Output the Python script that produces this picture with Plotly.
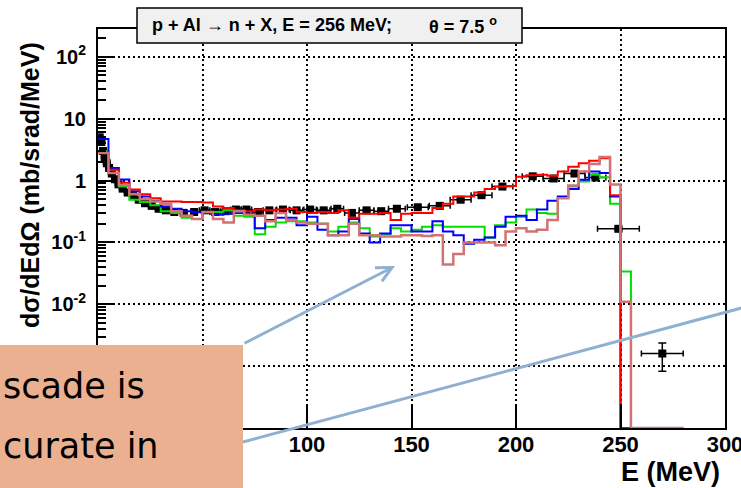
import numpy as np
import plotly.graph_objects as go

# ---------------- data ----------------
# neutron spectra, p + Al -> n + X at 256 MeV, theta = 7.5 deg
bin_edges = list(range(0, 285, 5))  # 0 ... 280 MeV, 5 MeV bins

model_red = [2.8, 1.5, 0.92, 0.72, 0.6, 0.52, 0.46, 0.46, 0.45, 0.45,
             0.44, 0.38, 0.36, 0.33, 0.32, 0.34, 0.33, 0.34, 0.35, 0.31,
             0.30, 0.31, 0.30, 0.33, 0.25, 0.29, 0.29, 0.30, 0.23, 0.29,
             0.30, 0.30, 0.36, 0.42, 0.55, 0.55, 0.64, 0.73, 0.80, 0.82,
             1.15, 1.22, 1.24, 1.20, 1.40, 1.67, 1.90, 2.10, 2.30, 0.58,
             0, 0, 0, 0, 0, 0]

model_blue = [4.7, 1.6, 1.04, 0.67, 0.55, 0.47, 0.38, 0.35, 0.32, 0.31,
              0.30, 0.28, 0.29, 0.30, 0.29, 0.17, 0.23, 0.25, 0.25, 0.19,
              0.26, 0.16, 0.13, 0.15, 0.24, 0.14, 0.10, 0.14, 0.19, 0.19,
              0.15, 0.15, 0.22, 0.15, 0.13, 0.095, 0.11, 0.12, 0.18, 0.26,
              0.27, 0.23, 0.34, 0.47, 0.55, 0.73, 1.03, 1.40, 1.33, 0.55,
              0, 0, 0, 0, 0, 0]

model_green = [3.0, 1.5, 0.8, 0.49, 0.45, 0.40, 0.32, 0.30, 0.25, 0.24,
               0.31, 0.31, 0.33, 0.27, 0.26, 0.135, 0.18, 0.21, 0.22, 0.22,
               0.21, 0.20, 0.15, 0.18, 0.21, 0.17, 0.125, 0.135, 0.17, 0.15,
               0.16, 0.18, 0.19, 0.18, 0.18, 0.18, 0.18, 0.12, 0.19, 0.21,
               0.26, 0.34, 0.30, 0.29, 0.53, 0.80, 0.97, 1.24, 1.13, 0.42,
               0.034, 0, 0, 0, 0, 0]

model_pink = [2.8, 1.33, 0.85, 0.6, 0.5, 0.46, 0.42, 0.32, 0.27, 0.24,
              0.31, 0.24, 0.21, 0.32, 0.28, 0.27, 0.22, 0.30, 0.23, 0.21,
              0.20, 0.20, 0.13, 0.13, 0.20, 0.13, 0.13, 0.125, 0.125, 0.13,
              0.13, 0.127, 0.13, 0.044, 0.065, 0.10, 0.10, 0.10, 0.09, 0.15,
              0.17, 0.15, 0.16, 0.23, 0.52, 0.83, 1.4, 1.85, 2.4, 0.86,
              0.011, 0, 0, 0, 0, 0]

exp_E = [0.8, 1.6, 2.4, 3.2, 4.2, 5.3, 6.6, 8.1, 9.8, 11.8, 14.2, 16.8,
         19.5, 22.5, 25.7, 29.0, 32.5, 36.5, 41.0, 46.0, 51.0, 56.0, 61.0,
         66.0, 71.0, 76.5, 82.0, 88.5, 95.0, 101.5, 108.0, 114.5, 121.5,
         128.5, 135.5, 143.0, 153.0, 163.5, 173.5, 183.5, 193.5, 208.0,
         218.0, 228.0, 238.0, 249.0, 270.0]
exp_val = [5.0, 4.2, 3.0, 2.4, 1.9, 1.6, 1.3, 1.05, 0.87, 0.74, 0.64, 0.56,
           0.49, 0.43, 0.39, 0.35, 0.33, 0.31, 0.30, 0.31, 0.33, 0.31, 0.32,
           0.34, 0.34, 0.31, 0.33, 0.34, 0.33, 0.34, 0.33, 0.35, 0.30,
           0.33, 0.32, 0.35, 0.37, 0.39, 0.49, 0.58, 0.80, 1.17,
           1.08, 1.30, 1.12, 0.166, 0.0016]
exp_dE = [0, 0, 0, 0, 0, 0, 0, 0, 0, 0, 0, 0,
          0, 0, 0, 0, 0, 0, 0, 0, 2.5, 2.5, 2.5,
          2.5, 2.5, 2.5, 3, 3, 3, 3, 3, 3, 3.5,
          3.5, 3.5, 4, 5, 5, 5, 5, 5, 5,
          5, 5, 5, 10, 10]
exp_err = [0.2, 0.15, 0.1, 0.08, 0.06, 0.05, 0.04, 0.03, 0.03, 0.02, 0.02,
           0.02, 0.015, 0.015, 0.012, 0.012, 0.01, 0.01, 0.01, 0.01, 0.01,
           0.01, 0.01, 0.01, 0.01, 0.01, 0.01, 0.01, 0.01, 0.01, 0.01,
           0.01, 0.01, 0.01, 0.01, 0.012, 0.012, 0.013, 0.015, 0.018, 0.025,
           0.035, 0.035, 0.04, 0.035, 0.01, 0.00077]

# labels below 1e-2 and below 100 MeV sit under the callout box
y_tick_vals = [1e-2, 1e-1, 1, 10, 100]
y_tick_text = ["10<sup>-2</sup>", "10<sup>-1</sup>", "1", "10", "10<sup>2</sup>"]
y_tick_hidden = [1e-4, 1e-3]
x_tick_vals = [100, 150, 200, 250, 300]
x_tick_hidden = [0, 50]

# ---------------- page geometry (pixels) ----------------
W, H = 741, 488
L, R, T, B = 98, 725, 29, 428
Y_LOG_MIN, Y_LOG_MAX = -4.0, 2.45


def px(x):
    return (x - L) / (R - L)


def py(y):
    return (B - y) / (B - T)


FLOOR = 10 ** Y_LOG_MIN  # empty bins sit on the lower frame edge


def step_xy(values):
    v = np.asarray(values, dtype=float)
    v = np.where(v > 0, v, FLOOR)
    return bin_edges, list(v) + [v[-1]]


fig = go.Figure()

fig.add_trace(go.Scatter(
    x=exp_E, y=exp_val, mode="markers",
    marker=dict(symbol="square", size=8, color="black"),
    error_x=dict(type="data", array=exp_dE, color="black", thickness=1.5, width=3),
    error_y=dict(type="data", array=exp_err, color="black", thickness=1.5, width=4),
    hoverinfo="skip"))

for vals, col, lw in [(model_green, "#00E000", 2),
                      (model_blue, "#0000FF", 2),
                      (model_red, "#FF0000", 2),
                      (model_pink, "#D27272", 2.5)]:
    xs, ys = step_xy(vals)
    fig.add_trace(go.Scatter(x=xs, y=ys, mode="lines", line_shape="hv",
                             line=dict(color=col, width=lw), hoverinfo="skip"))

grid = dict(showgrid=True, gridcolor="black", gridwidth=1.5, griddash="2px,3px")
axis_font = dict(family="Liberation Sans, Arial, sans-serif", color="black", weight="bold")

fig.update_xaxes(range=[0, 300], tickmode="array",
                 tickvals=x_tick_hidden + x_tick_vals,
                 ticktext=["", ""] + [str(v) for v in x_tick_vals],
                 ticks="inside", ticklen=24, tickwidth=2, tickcolor="black",
                 showline=True, linewidth=2, linecolor="black", mirror=True,
                 zeroline=False, tickfont=dict(size=22, **axis_font),
                 ticklabeloverflow="allow", ticklabelstandoff=-4,
                 automargin=False, **grid)

minor_vals = [m * 10 ** d for d in range(-4, 3) for m in range(2, 10)
              if np.log10(m * 10 ** d) < Y_LOG_MAX]
fig.update_yaxes(type="log", range=[Y_LOG_MIN, Y_LOG_MAX], tickmode="array",
                 tickvals=y_tick_hidden + y_tick_vals,
                 ticktext=["", ""] + y_tick_text,
                 ticks="inside", ticklen=17, tickwidth=2, tickcolor="black",
                 minor=dict(tickmode="array", tickvals=minor_vals, ticks="inside",
                            ticklen=8, tickwidth=1.5, tickcolor="black", showgrid=False),
                 showline=True, linewidth=2, linecolor="black", mirror=True,
                 zeroline=False, tickfont=dict(size=20, **axis_font),
                 ticklabelstandoff=6, automargin=False, **grid)

slide_blue = "#8FB0D0"
shapes = [
    # header box
    dict(type="rect", xref="paper", yref="paper", x0=px(137), x1=px(522),
         y0=py(43), y1=py(8), fillcolor="#F0F0F0",
         line=dict(color="black", width=1.5), layer="above"),
    # long pointer line
    dict(type="line", xref="paper", yref="paper", x0=px(243), y0=py(442),
         x1=px(760), y1=py(303), line=dict(color=slide_blue, width=3), layer="above"),
    # callout box
    dict(type="rect", xref="paper", yref="paper", x0=px(-10), x1=px(243),
         y0=py(500), y1=py(345), fillcolor="#EBB08F", line=dict(width=0), layer="above"),
]

bold = dict(family="Liberation Sans, Arial, sans-serif", color="black", weight="bold")
callout_font = dict(family="DejaVu Sans, sans-serif", size=35, color="black")
annotations = [
    dict(xref="paper", yref="paper", x=px(150), y=py(25.5), xanchor="left",
         yanchor="middle", showarrow=False,
         text="p + Al \u2192 n + X, E = 256 MeV;", font=dict(size=18, **bold)),
    dict(xref="paper", yref="paper", x=px(427), y=py(25.5), xanchor="left",
         yanchor="middle", showarrow=False,
         text="\u03b8 = 7.5 <sup>o</sup>", font=dict(size=18, **bold)),
    dict(xref="paper", yref="paper", x=px(30), y=py(185), xanchor="center",
         yanchor="middle", showarrow=False, textangle=-90,
         text="d\u03c3/dEd\u03a9 (mb/srad/MeV)", font=dict(size=25, **bold)),
    dict(xref="paper", yref="paper", x=px(722), y=py(472), xanchor="right",
         yanchor="middle", showarrow=False,
         text="E (MeV)", font=dict(size=27, **bold)),
    # arrow into the plot
    dict(xref="paper", yref="paper", x=px(395), y=py(266), ax=-152, ay=78,
         text="", showarrow=True, arrowhead=5, arrowsize=1, arrowwidth=3,
         arrowcolor=slide_blue),
    # callout text
    dict(xref="paper", yref="paper", x=px(1), y=py(386), xanchor="left",
         yanchor="middle", showarrow=False, text="scade is", font=callout_font),
    dict(xref="paper", yref="paper", x=px(1), y=py(446), xanchor="left",
         yanchor="middle", showarrow=False, text="curate in", font=callout_font),
]

fig.update_layout(width=W, height=H, margin=dict(l=L, r=W - R, t=T, b=H - B, pad=0),
                  paper_bgcolor="white", plot_bgcolor="white", showlegend=False,
                  shapes=shapes, annotations=annotations)

fig.write_html("out.html")
